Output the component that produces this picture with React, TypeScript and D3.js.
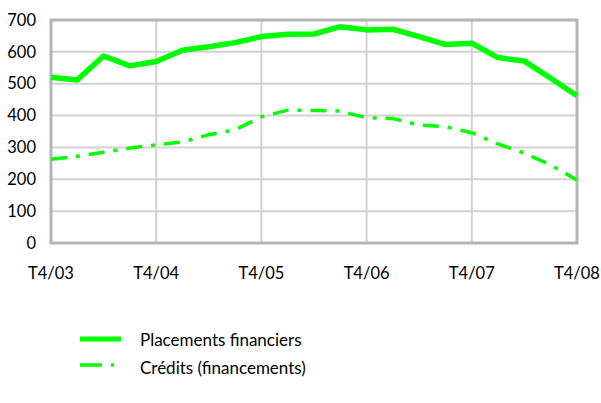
import React from 'react';
import * as d3 from 'd3';

const quarters = [
  'T4/03', 'T1/04', 'T2/04', 'T3/04', 'T4/04', 'T1/05', 'T2/05', 'T3/05', 'T4/05',
  'T1/06', 'T2/06', 'T3/06', 'T4/06', 'T1/07', 'T2/07', 'T3/07', 'T4/07',
  'T1/08', 'T2/08', 'T3/08', 'T4/08',
];
const placements = [520, 512, 587, 556, 570, 605, 616, 629, 648, 655, 656, 679, 669, 671, 648, 623, 627, 582, 571, 517, 462];
const credits = [263, 272, 285, 298, 308, 317, 340, 355, 396, 417, 416, 414, 393, 391, 370, 365, 346, 311, 282, 245, 198];
const xTicks = ['T4/03', 'T4/04', 'T4/05', 'T4/06', 'T4/07', 'T4/08'];
const yTicks = [0, 100, 200, 300, 400, 500, 600, 700];

const width = 601;
const height = 403;
const margin = { top: 20, right: 24, bottom: 160, left: 51 };
const green = '#00ff00';
const font = 'Lato, sans-serif';

const App = () => {
  const x = d3.scalePoint<string>()
    .domain(quarters)
    .range([margin.left, width - margin.right]);

  const y = d3.scaleLinear()
    .domain([0, 700])
    .range([height - margin.bottom, margin.top]);

  const line = d3.line<number>()
    .x((d, i) => x(quarters[i]) as number)
    .y(d => y(d));

  const x0 = margin.left;
  const x1 = width - margin.right;
  const y0 = y(0);
  const y1 = y(700);

  return (
    <svg width={width} height={height} style={{ position: 'absolute', left: 0, top: 0, background: '#fff' }}>
      {/* grid */}
      <g>
        {yTicks.map(t => (
          <line key={t} x1={x0} x2={x1} y1={y(t)} y2={y(t)} stroke="#d2d2d2" strokeWidth={2} />
        ))}
        {xTicks.map(t => (
          <line key={t} x1={x(t)} x2={x(t)} y1={y1} y2={y0} stroke="#d2d2d2" strokeWidth={2} />
        ))}
      </g>
      <rect x={x0} y={y1} width={x1 - x0} height={y0 - y1} fill="none" stroke="#b4b4b4" strokeWidth={3} />

      {/* series */}
      <path d={line(credits) as string} fill="none" stroke={green} strokeWidth={3.5} strokeDasharray="16,9,4,9" />
      <path d={line(placements) as string} fill="none" stroke={green} strokeWidth={5.5} strokeLinejoin="round" />

      {/* y labels */}
      {yTicks.map(t => (
        <text key={t} x={36} y={y(t)} dy="0.35em" textAnchor="end" fontFamily={font} fontSize={16.5} fill="#000">{t}</text>
      ))}
      {/* x labels */}
      {xTicks.map(t => (
        <text key={t} x={x(t)} y={273} dy="0.35em" textAnchor="middle" fontFamily={font} fontSize={16.5} fill="#000">{t}</text>
      ))}

      {/* legend */}
      <line x1={80} x2={121} y1={339} y2={339} stroke={green} strokeWidth={5} />
      <text x={140} y={340} dy="0.35em" fontFamily={font} fontSize={17} fill="#000">Placements financiers</text>
      <line x1={80} x2={114} y1={365} y2={365} stroke={green} strokeWidth={3.5} strokeDasharray="22,9,3,9" />
      <text x={140} y={368} dy="0.35em" fontFamily={font} fontSize={17} fill="#000">Crédits (financements)</text>
    </svg>
  );
};

export default App;
